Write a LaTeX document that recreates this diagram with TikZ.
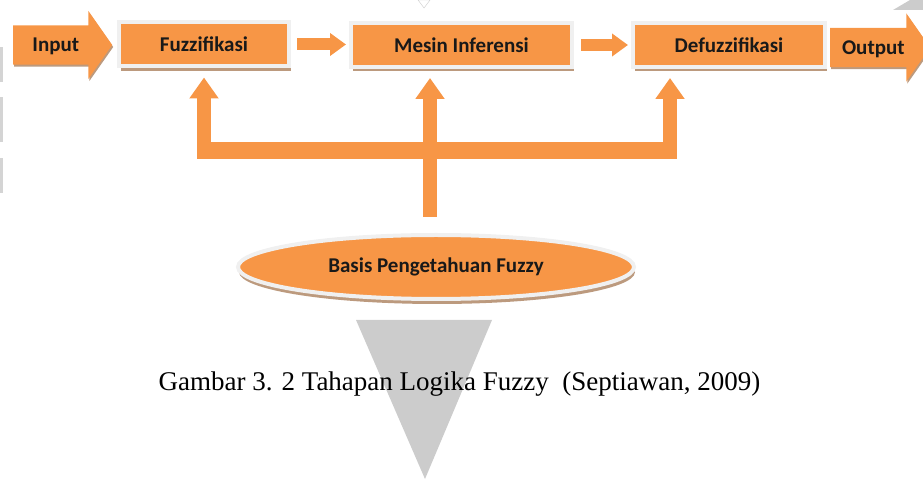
\documentclass[tikz,border=0pt]{standalone}
\usepackage{fontspec}
\setmainfont{Liberation Serif}
\newfontfamily\calibri{Carlito}
\usetikzlibrary{positioning,calc,shapes.arrows,shapes.geometric,shadows,arrows.meta}
\definecolor{jingga}{HTML}{F79646}
\definecolor{bingkai}{HTML}{F0F0F0}
\definecolor{bayang}{HTML}{B58F70}
\colorlet{abu}{black!20}
\colorlet{teks}{black!90}
\begin{document}
\begin{tikzpicture}[x=1pt,y=1pt,
    tahap/.style={rectangle, fill=jingga, draw=bingkai, line width=4pt,
      minimum height=44pt, text=teks, font=\calibri\bfseries\fontsize{21}{24}\selectfont,
      drop shadow={shadow xshift=1.5pt, shadow yshift=-4.5pt, fill=bayang, opacity=0.9}},
    blok/.style={single arrow, fill=jingga, single arrow head extend=14.5pt,
      single arrow tip angle=110, inner ysep=12.5pt, text height=14pt, text depth=0pt,
      text=teks, font=\calibri\bfseries\fontsize{21}{24}\selectfont,
      drop shadow={shadow xshift=1pt, shadow yshift=-2pt, fill=bayang, opacity=0.9}},
    panah/.style={draw=jingga, line width=14pt, -{Triangle[width=28pt,length=21pt]}},
    panahdatar/.style={draw=jingga, line width=12pt, -{Triangle[width=22pt,length=16pt]}},
  ]
  % bounding box
  \clip (0,0) rectangle (923,479);
  % watermark
  \fill[abu] (356,159) -- (492,159) -- (425,0) -- cycle;
  \fill[abu] (893,469) -- (910,479) -- (923,479) -- (923,469) -- cycle;
  \foreach \a/\b in {397/432, 337/382, 286/321}
    \fill[abu!85] (0,\a) rectangle (3,\b);
  \draw[abu, fill=white] (418,479) -- (430,479) -- (424,471) -- cycle;

  % tahapan
  \node[blok, minimum height=99pt, anchor=west] (input) at (13,434) {Input};
  \node[tahap, minimum width=170pt] (fuzz) at (204,434.5) {Fuzzifikasi};
  \node[tahap, minimum width=221pt] (mesin) at (461.5,434) {Mesin Inferensi};
  \node[tahap, minimum width=192pt] (defuzz) at (729,434) {Defuzzifikasi};
  \node[blok, minimum height=100pt, anchor=west] (output) at (830,431.5) {Output};

  % basis pengetahuan
  \node[ellipse, fill=jingga, draw=bingkai, line width=4pt, minimum width=396pt,
    minimum height=64pt, text=teks, font=\calibri\bfseries\fontsize{21}{24}\selectfont,
    drop shadow={shadow xshift=1pt, shadow yshift=-5pt, fill=bayang, opacity=0.9}]
    (basis) at (436,212) {Basis Pengetahuan Fuzzy};

  % aliran
  \draw[panahdatar] ([xshift=6pt]fuzz.east) -- ($(fuzz.east -| mesin.west)+(-3,0)$);
  \draw[panahdatar] ([xshift=7pt]mesin.east) -- ($(mesin.east -| defuzz.west)+(-3,0)$);

  % cabang ke atas
  \coordinate (rel) at (0,328.5);
  \coordinate (kiri) at (fuzz.south |- rel);
  \coordinate (kanan) at ($(defuzz.south |- rel)+(-59,0)$);
  \coordinate (tengah) at ($(basis.north)+(-6,16)$);
  \draw[jingga, line width=17pt] ($(kiri)+(-7,0)$) -- ($(kanan)+(7,0)$);
  \draw[panah, shorten >=9pt] (kiri) -- (kiri |- fuzz.south);
  \draw[panah, shorten >=9pt] (tengah) -- (tengah |- mesin.south);
  \draw[panah, shorten >=9pt] (kanan) -- (kanan |- defuzz.south);

  % keterangan
  \node[font=\fontsize{27}{30}\selectfont, anchor=base] (ket) at (459.5,88)
    {Gambar 3. 2 Tahapan Logika Fuzzy~~(Septiawan, 2009)};
\end{tikzpicture}
\end{document}
